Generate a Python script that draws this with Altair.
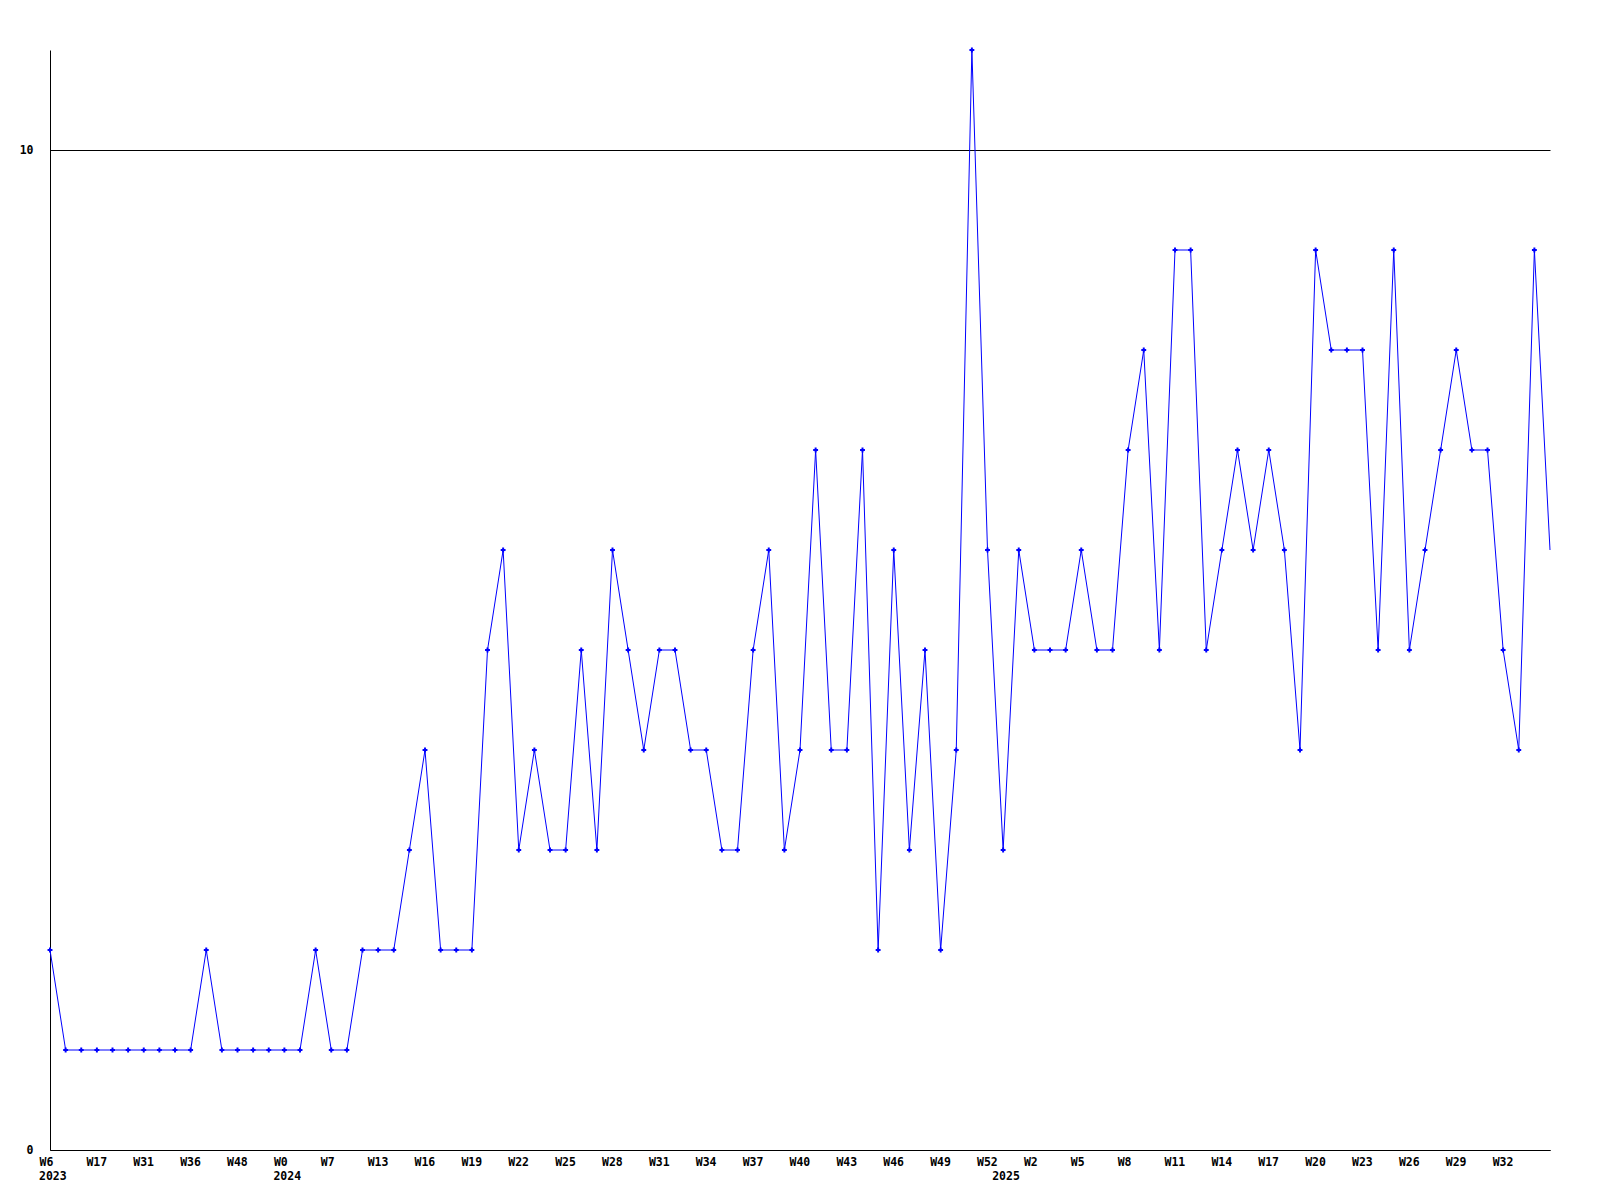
import altair as alt
import pandas as pd

# Week labels, one per point (%U-style weeks)
weeks_2023 = ["W6", "W9", "W13", "W17", "W20", "W26", "W31", "W33", "W35",
              "W36", "W40", "W44", "W48", "W50", "W52"]
weeks_2024 = ["W0", "W3", "W5", "W7", "W9", "W11"] + [f"W{w}" for w in range(13, 53)]
weeks_2025 = [f"W{w}" for w in range(0, 36)]

week_labels = weeks_2023 + weeks_2024 + weeks_2025
years = ["2023"] * len(weeks_2023) + ["2024"] * len(weeks_2024) + ["2025"] * len(weeks_2025)

values = [2, 1, 1, 1, 1, 1, 1, 1, 1, 1,
          2, 1, 1, 1, 1, 1, 1, 2, 1, 1,
          2, 2, 2, 3, 4, 2, 2, 2, 5, 6,
          3, 4, 3, 3, 5, 3, 6, 5, 4, 5,
          5, 4, 4, 3, 3, 5, 6, 3, 4, 7,
          4, 4, 7, 2, 6, 3, 5, 2, 4, 11,
          6, 3, 6, 5, 5, 5, 6, 5, 5, 7,
          8, 5, 9, 9, 5, 6, 7, 6, 7, 6,
          4, 9, 8, 8, 8, 5, 9, 5, 6, 7,
          8, 7, 7, 5, 4, 9, 6]

y_ticks = [0, 10]

n = len(values)
df = pd.DataFrame({
    "i": list(range(n)),
    "value": values,
    "week": week_labels[:n],
    "year": years[:n],
})
df["yearlabel"] = [y if (k == 0 or years[k] != years[k - 1]) else "" for k, y in enumerate(years[:n])]
years_df = df[df["yearlabel"] != ""]
points_df = df[df["i"] < n - 1]

W, H = 1500, 1100
FONT = "DejaVu Sans Mono"

label_js = "[" + ",".join(f"'{w}'" for w in week_labels[:n]) + "]"

x_scale = alt.Scale(domain=[0, n - 1], nice=False, zero=False)
y_scale = alt.Scale(domain=[0, 11], nice=False, zero=True)

x_axis = alt.Axis(
    values=list(range(0, n - 1, 3)),
    labelExpr=f"{label_js}[datum.value]",
    title=None, grid=False, ticks=False,
    domainColor="black", domainWidth=1,
    labelAlign="left", labelOffset=-11, labelBaseline="top", labelPadding=6,
    labelFont=FONT, labelFontSize=11.5, labelFontWeight="bold", labelColor="black",
    labelOverlap=False, labelFlush=False,
)
y_axis = alt.Axis(
    values=y_ticks, format="d", title=None, grid=True, gridColor="black",
    gridWidth=1, gridOpacity=1,
    ticks=False, domainColor="black", domainWidth=1,
    labelPadding=17, labelFont=FONT, labelFontSize=11.5, labelFontWeight="bold",
    labelColor="black", labelBaseline="middle",
)

base = alt.Chart(df)

line = base.mark_line(color="#0000ff", strokeWidth=1).encode(
    x=alt.X("i:Q", scale=x_scale, axis=x_axis),
    y=alt.Y("value:Q", scale=y_scale, axis=y_axis),
)

pts = alt.Chart(points_df).mark_point(
    shape="cross", filled=True, color="#0000ff", size=24, opacity=1
).encode(
    x=alt.X("i:Q", scale=x_scale),
    y=alt.Y("value:Q", scale=y_scale),
)

yr = alt.Chart(years_df).mark_text(
    align="left", baseline="top", dx=-11, font=FONT, fontSize=11.5,
    fontWeight="bold", color="black"
).encode(
    x=alt.X("i:Q", scale=x_scale),
    y=alt.value(H + 21),
    text="yearlabel:N",
)

chart = alt.layer(line, pts, yr).properties(
    width=W, height=H,
    background="white",
    autosize=alt.AutoSizeParams(type="none"),
    padding={"left": 42, "top": 42, "right": 42, "bottom": 42},
).configure_view(stroke=None)

chart.save("out.html", embed_options={"renderer": "svg", "actions": False})
